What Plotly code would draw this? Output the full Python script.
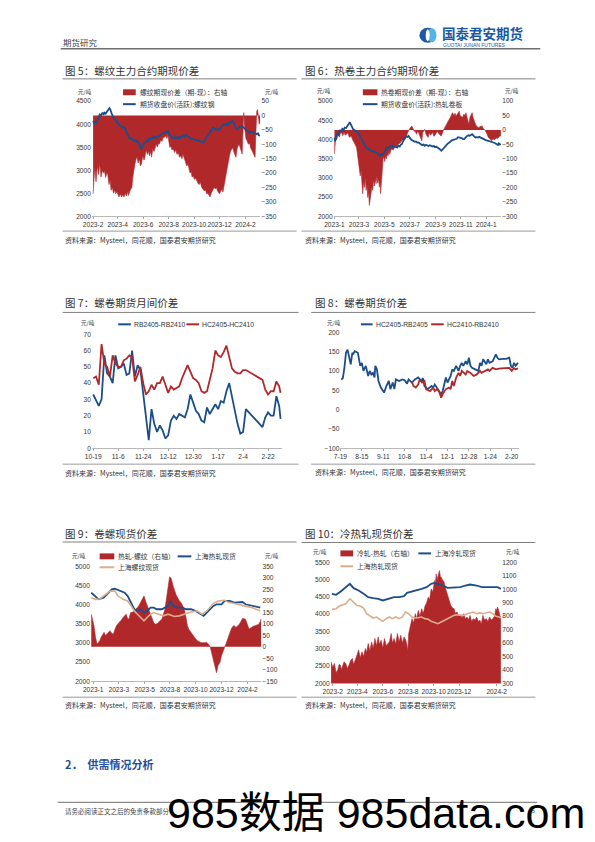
import plotly.graph_objects as go
import pandas as pd

# ======================= DATA =======================
# Fig 5: rebar main contract basis (right axis) & futures close (left axis)
f5_start = "2023-02-01"
f5_basis_pts = [(0,-272),(2,-200),(4,-180),(7,-230),(10,-175),(13,-205),(16,-168),(19,-214),(22,-190),(25,-200),
    (27,-191),(30,-215),(33,-200),(35,-203),(38,-240),(41,-225),(43,-260),(46,-250),(49,-270),(52,-258),(54,-272),
    (57,-265),(60,-280),(62,-283),(65,-272),(68,-283),(71,-275),(74,-283),(77,-270),(80,-280),(83,-265),(85,-278),
    (88,-262),(90,-255),(93,-249),(95,-215),(97,-191),(100,-170),(103,-150),(105,-145),(108,-165),(111,-150),
    (113,-175),(116,-168),(119,-140),(122,-155),(124,-145),(127,-120),(130,-135),(132,-122),(135,-140),(138,-125),
    (140,-145),(143,-115),(146,-125),(148,-111),(151,-100),(154,-110),(157,-95),(159,-99),(162,-85),(165,-90),
    (168,-75),(171,-76),(174,-70),(177,-80),(179,-65),(182,-95),(184,-111),(186,-105),(189,-120),(192,-115),
    (195,-128),(198,-120),(201,-135),(204,-128),(207,-145),(210,-140),(213,-150),(215,-134),(218,-145),(221,-160),
    (224,-175),(227,-170),(229,-180),(232,-200),(235,-195),(237,-214),(240,-210),(243,-222),(246,-218),(248,-226),
    (251,-235),(254,-240),(257,-232),(260,-249),(263,-255),(266,-262),(269,-258),(272,-272),(275,-270),(278,-278),
    (280,-283),(283,-270),(285,-265),(287,-260),(290,-250),(293,-255),(295,-249),(298,-262),(301,-268),(303,-272),
    (306,-262),(309,-255),(311,-266),(314,-240),(316,-225),(318,-214),(321,-185),(323,-160),(326,-145),(329,-125),
    (331,-118),(334,-111),(337,-125),(340,-135),(342,-145),(345,-115),(347,-105),(349,-99),(352,-110),(355,-125),
    (357,-134),(359,-60),(361,10),(363,-40),(366,-80),(369,-88),(372,-100),(375,-95),(377,-111),(380,-120),
    (382,-128),(384,-134),(386,-140),(388,-145),(390,-60),(392,15),(394,21),(396,-5),(398,-30),(400,-20)]
f5_fut_pts = [(0,4070),(3,4020),(6,4050),(8,4030),(11,4100),(14,4180),(16,4210),(19,4190),(22,4240),(25,4220),
    (27,4250),(30,4230),(33,4280),(36,4300),(39,4350),(41,4320),(43,4250),(45,4220),(47,4180),(50,4120),(53,4090),
    (56,4060),(58,4030),(61,4000),(64,3970),(67,3950),(70,3925),(73,3940),(76,3900),(78,3890),(80,3820),(83,3760),
    (85,3710),(88,3680),(91,3700),(94,3660),(97,3640),(100,3660),(103,3620),(106,3640),(109,3600),(112,3540),
    (115,3460),(118,3530),(121,3570),(124,3600),(127,3640),(130,3620),(133,3680),(136,3660),(140,3710),(143,3690),
    (146,3730),(149,3700),(152,3720),(155,3710),(158,3750),(161,3760),(164,3790),(167,3800),(171,3820),(174,3840),
    (177,3830),(179,3850),(182,3780),(185,3740),(188,3720),(190,3710),(193,3690),(196,3730),(199,3700),(202,3720),
    (205,3700),(208,3730),(210,3710),(213,3740),(216,3760),(219,3730),(222,3770),(225,3750),(228,3720),(231,3700),
    (234,3690),(238,3680),(241,3670),(244,3660),(247,3650),(250,3660),(253,3640),(256,3640),(259,3620),(262,3610),
    (264,3600),(267,3640),(270,3680),(273,3720),(276,3750),(279,3790),(282,3840),(285,3890),(287,3925),(290,3920),
    (293,3880),(296,3900),(299,3870),(303,3890),(306,3920),(309,3960),(312,3990),(314,4000),(317,3980),(320,4010),
    (323,3990),(326,4030),(329,4040),(331,4050),(334,4070),(337,4020),(340,3950),(342,3910),(345,3890),(348,3920),
    (351,3940),(354,3950),(357,3960),(360,3930),(363,3900),(366,3870),(369,3850),(372,3830),(375,3840),(378,3820),
    (381,3830),(384,3820),(387,3800),(390,3790),(392,3780),(395,3800),(397,3760),(400,3750)]
f5_tick_dates = ["2023-02-01","2023-04-01","2023-06-01","2023-08-01","2023-10-01","2023-12-01","2024-02-01"]
f5_tick_text = ["2023-2","2023-4","2023-6","2023-8","2023-10","2023-12","2024-2"]

# Fig 6: HRC main contract basis (right) & futures close (left)
f6_start = "2023-01-01"
f6_basis_pts = [(0,-84),(1,-40),(3,-26),(5,-35),(7,-18),(9,-15),(12,-25),(14,-12),(17,-9),(20,-20),(23,-8),(26,-18),
    (29,-15),(32,-10),(35,-22),(37,-26),(40,-20),(43,-35),(45,-38),(48,-45),(51,-55),(53,-61),(55,-80),(57,-100),
    (60,-130),(62,-160),(64,-140),(66,-190),(68,-222),(70,-180),(72,-200),(74,-165),(76,-210),(78,-190),(80,-235),
    (82,-215),(84,-262),(86,-240),(88,-225),(90,-200),(92,-210),(94,-175),(96,-195),(98,-170),(100,-187),(102,-160),
    (104,-185),(106,-170),(108,-199),(110,-180),(111,-222),(113,-170),(115,-120),(117,-100),(119,-95),(121,-110),
    (123,-90),(125,-100),(127,-84),(129,-90),(131,-75),(133,-85),(135,-72),(138,-65),(141,-70),(144,-58),(147,-55),
    (150,-60),(153,-50),(155,-49),(158,-45),(160,-40),(162,-38),(165,-35),(168,-30),(170,-32),(173,-20),(175,-10),
    (178,-3),(181,5),(184,10),(186,14),(189,5),(192,-5),(194,-3),(197,-15),(200,-5),(202,-9),(205,-20),(208,-30),
    (210,-38),(212,-10),(215,-5),(217,2),(220,-15),(223,-20),(225,-26),(228,-10),(231,-18),(233,-15),(236,-8),
    (239,-22),(241,-20),(244,-12),(247,-5),(249,-9),(252,-15),(255,-20),(257,-20),(260,-5),(263,2),(265,8),(268,15),
    (271,25),(274,32),(276,37),(279,45),(282,55),(284,60),(287,50),(290,58),(292,48),(295,55),(298,62),(300,65),
    (302,50),(305,45),(308,43),(311,55),(314,50),(316,60),(319,40),(321,25),(323,20),(326,45),(329,55),(331,60),
    (333,45),(336,30),(339,20),(342,12),(345,10),(347,8),(350,12),(353,15),(355,14),(358,5),(361,0),(363,-3),
    (366,-12),(368,-20),(370,-26),(373,-30),(376,-35),(378,-38),(381,-30),(384,-35),(386,-32),(389,-28),(392,-30),
    (394,-26),(397,-22),(400,-20)]
f6_fut_pts = [(0,4050),(2,3950),(4,4100),(7,4150),(10,4120),(13,4250),(16,4200),(19,4280),(22,4250),(25,4310),
    (28,4300),(31,4350),(34,4380),(37,4450),(40,4380),(43,4300),(45,4267),(48,4250),(51,4220),(54,4200),(57,4180),
    (60,4120),(63,4050),(66,3990),(68,3966),(71,3900),(74,3830),(76,3793),(79,3760),(82,3740),(85,3720),(88,3707),
    (91,3690),(94,3700),(97,3680),(100,3664),(103,3640),(106,3620),(109,3600),(111,3560),(113,3620),(116,3600),
    (119,3664),(122,3700),(125,3760),(127,3793),(130,3780),(133,3820),(136,3800),(139,3836),(142,3780),(145,3820),
    (148,3800),(151,3793),(154,3840),(157,3820),(160,3870),(162,3880),(165,3950),(168,4020),(170,4052),(173,4080),
    (176,4070),(178,4095),(181,4040),(184,4000),(187,3980),(190,3966),(193,3940),(196,3950),(199,3920),(202,3923),
    (205,3900),(208,3880),(211,3850),(214,3870),(217,3836),(220,3860),(223,3840),(226,3830),(229,3850),(233,3836),
    (236,3820),(239,3830),(242,3800),(245,3810),(249,3793),(252,3760),(255,3730),(257,3707),(260,3740),(263,3770),
    (265,3793),(268,3840),(271,3880),(274,3900),(276,3923),(279,3950),(282,3980),(285,3990),(288,4009),(291,4030),
    (294,4020),(297,4060),(300,4052),(303,4030),(306,4040),(309,4010),(312,4009),(315,4050),(317,4080),(319,4095),
    (322,4110),(325,4100),(328,4120),(331,4138),(334,4100),(337,4070),(339,4052),(342,4060),(345,4050),(348,4070),
    (351,4052),(354,4030),(357,4020),(359,4009),(362,3990),(365,3980),(368,3970),(370,3966),(373,3950),(376,3940),
    (379,3930),(382,3923),(385,3910),(388,3890),(390,3880),(393,3860),(395,3900),(397,3870),(400,3880)]
f6_tick_dates = ["2023-01-01","2023-03-01","2023-05-01","2023-07-01","2023-09-01","2023-11-01","2024-01-01"]
f6_tick_text = ["2023-1","2023-3","2023-5","2023-7","2023-9","2023-11","2024-1"]

# Fig 7: calendar spreads
f7_start = "2023-10-19"
f7_day = [0,2,4,6,8,10,12,14,16,18,20,22,24,26,28,30,32,34,36,38,40,42,44,46,48,50,52,54,56,58,60,62,64,66,68,70,
          72,74,76,78,80,82,84,86,88,90,92,94,96,98,100,102,104,106,108,110,122,124,126,128,130,132,134,135]
f7_rb = [33,29,26,30,57,46,44,40,57,49,50,52,45,46,60,44,51,48,33,18,5,24,15,10,14,11,6,8,17,20,18,21,20,19,24,33,
         28,23,21,17,16,25,21,24,27,24,29,28,35,40,31,23,15,9,10,24,13,19,22,20,20,32,26,18]
f7_hc = [43,44,39,64,52,50,44,57,52,50,50,54,55,57,56,41,45,50,40,33,35,39,36,40,40,44,39,34,38,36,37,38,43,47,51,47,
         43,42,40,35,34,35,43,49,60,57,56,59,63,55,49,47,46,46,48,48,42,36,33,35,35,41,38,34]
f7_tick_days = [0,18,36,54,72,90,108,126]
f7_tick_text = ["10-19","11-6","11-24","12-12","12-30","1-17","2-4","2-22"]

# Fig 8: HC-RB spreads
f8_start = "2023-07-19"
f8_hr05_pts = [(1,78),(3,81),(5,108),(7,147),(9,155),(11,138),(13,117),(15,147),(16,143),(18,151),(20,149),(22,147),
    (25,113),(27,121),(29,100),(32,113),(35,87),(37,100),(39,91),(41,95),(43,83),(44,113),(46,104),(48,74),(51,57),
    (55,44),(58,61),(61,74),(63,53),(66,70),(68,53),(70,78),(74,74),(78,78),(81,76),(84,67),(86,78),(90,70),(94,78),
    (98,83),(102,74),(104,81),(106,61),(110,53),(115,61),(117,57),(119,65),(123,53),(125,48),(127,40),(129,48),
    (131,65),(133,83),(135,70),(139,87),(141,104),(143,100),(146,113),(149,100),(151,113),(153,121),(155,113),
    (158,125),(160,117),(162,134),(164,113),(166,108),(170,104),(174,100),(176,121),(178,113),(180,130),(182,125),
    (184,117),(186,130),(188,121),(192,125),(194,134),(196,143),(198,134),(200,130),(205,131),(209,131),(213,134),
    (215,113),(217,108),(219,121),(221,113),(224,121)]
f8_hr10_pts = [(90,74),(92,61),(95,57),(98,65),(100,78),(103,70),(106,74),(108,53),(113,48),(117,57),(119,48),
    (122,53),(125,44),(127,31),(129,40),(133,53),(137,57),(139,53),(141,74),(143,61),(146,83),(149,95),(151,87),
    (153,100),(158,91),(160,100),(164,95),(168,87),(172,91),(176,100),(178,95),(182,100),(186,104),(188,100),
    (192,108),(196,104),(200,106),(207,107),(213,108),(216,100),(219,107),(221,104),(224,107)]
f8_tick_days = [0,27,54,81,108,135,162,189,216]
f8_tick_text = ["7-19","8-15","9-11","10-8","11-4","12-1","12-28","1-24","2-20"]

# Fig 9: HRC - rebar spot
f9_start = "2023-01-01"
f9_diff_pts = [(-5,142),(2,92),(6,40),(10,12),(14,20),(17,27),(20,40),(22,48),(25,55),(28,63),(31,50),(35,55),
    (39,65),(43,70),(47,60),(52,55),(56,75),(60,92),(64,100),(68,106),(72,115),(77,127),(81,135),(85,142),(88,125),
    (92,120),(95,140),(97,149),(101,150),(106,156),(110,165),(114,170),(118,180),(122,192),(126,205),(131,221),
    (135,199),(139,180),(143,163),(147,140),(152,120),(156,105),(160,98),(164,100),(168,106),(172,112),(177,120),
    (181,140),(185,163),(189,210),(193,264),(197,304),(200,300),(202,293),(206,265),(210,242),(214,225),(218,213),
    (222,200),(227,192),(231,180),(235,163),(239,130),(243,92),(247,75),(252,63),(256,50),(260,41),(264,35),
    (268,27),(272,22),(277,19),(281,18),(285,17),(289,18),(293,19),(298,10),(302,-2),(306,-31),(310,-67),(314,-96),
    (318,-113),(322,-81),(325,-75),(327,-67),(331,-38),(335,-16),(339,-2),(343,15),(347,34),(351,55),(356,77),
    (360,88),(364,92),(368,84),(372,90),(377,98),(381,110),(385,123),(389,122),(393,120),(397,100),(402,77),
    (406,82),(410,88),(414,90),(418,92),(422,95),(427,98),(431,110),(433,123)]
f9_hrc_pts = [(-5,4310),(6,4207),(14,4138),(27,4181),(35,4267),(48,4397),(56,4414),(64,4379),(73,4353),(81,4310),
    (89,4224),(98,4052),(106,3879),(114,3836),(122,3879),(131,3793),(139,3836),(148,3922),(156,3922),(164,3879),
    (177,3879),(185,3922),(193,3966),(200,4095),(206,3966),(218,3922),(231,3922),(239,3879),(252,3879),(264,3836),
    (277,3750),(285,3707),(293,3793),(302,3879),(310,3966),(318,4009),(331,4009),(339,4095),(352,4095),(364,4052),
    (377,4052),(385,4069),(393,4009),(406,3983),(418,3948),(431,3922)]
f9_rebar_pts = [(-5,4181),(6,4138),(18,4155),(31,4267),(43,4353),(56,4353),(64,4224),(77,4138),(89,4095),(98,3966),
    (106,3836),(114,3750),(122,3664),(131,3578),(139,3664),(148,3750),(156,3793),(168,3750),(181,3707),(193,3750),
    (202,3707),(210,3690),(222,3707),(235,3750),(252,3810),(268,3836),(281,3750),(293,3836),(302,3948),(310,4034),
    (322,4095),(339,4112),(347,4069),(360,4034),(372,4009),(385,3983),(398,3948),(410,3922),(423,3879),(431,3836)]
f9_tick_days = [0,66,133,198,264,331,398]
f9_tick_text = ["2023-1","2023-3","2023-5","2023-8","2023-10","2023-12","2024-2"]

# Fig 10: CRC - HRC spot
f10_start = "2023-02-01"
f10_diff_pts = [(-4,460),(0,420),(4,448),(8,380),(12,399),(15,440),(18,436),(21,400),(23,423),(27,460),(31,448),
    (35,410),(39,436),(43,470),(47,485),(50,440),(54,473),(58,520),(62,547),(66,490),(70,534),(74,500),(78,559),
    (81,530),(85,596),(89,540),(93,608),(97,560),(101,633),(105,580),(109,645),(112,590),(116,620),(120,560),
    (124,633),(128,580),(132,596),(136,610),(140,670),(143,600),(147,633),(151,590),(155,670),(159,610),(163,657),
    (167,600),(171,645),(175,620),(178,583),(180,540),(182,670),(186,720),(190,781),(194,750),(198,818),(201,780),
    (205,842),(209,800),(213,855),(217,820),(221,874),(225,900),(229,941),(232,920),(236,1003),(240,980),(244,1064),
    (246,1040),(248,1114),(250,1070),(252,1089),(254,1120),(256,1138),(258,1090),(260,1089),(263,1070),(267,1052),
    (271,1000),(275,953),(279,910),(283,879),(287,860),(291,855),(294,820),(298,830),(302,800),(306,805),(310,790),
    (314,818),(318,780),(322,793),(325,770),(329,805),(333,760),(337,781),(341,770),(345,793),(349,760),(353,769),
    (356,740),(360,805),(364,770),(368,781),(372,760),(376,793),(380,770),(384,781),(388,800),(391,855),(393,840),
    (395,867),(397,850),(399,830),(401,800),(403,781)]
f10_crc_pts = [(-2,4589),(8,4560),(19,4656),(31,4781),(41,4877),(50,4752),(62,4685),(74,4589),(85,4493),(97,4464),
    (109,4445),(120,4397),(128,4426),(136,4464),(147,4493),(159,4493),(171,4522),(178,4618),(190,4656),(202,4685),
    (213,4733),(225,4781),(236,4877),(244,4906),(252,4877),(264,4829),(275,4762),(291,4762),(306,4781),(318,4829),
    (329,4858),(345,4829),(357,4781),(368,4781),(384,4781),(395,4781),(403,4733)]
f10_hrc_pts = [(-2,4138),(8,4157),(16,4234),(23,4273),(31,4301),(41,4445),(50,4349),(58,4253),(66,4234),(74,4177),
    (81,4014),(89,3947),(97,3889),(105,3918),(112,3870),(120,3793),(128,3870),(136,3918),(143,3870),(151,3918),
    (159,3870),(167,3918),(174,4062),(182,4014),(190,3918),(198,3889),(205,3899),(213,3918),(221,3870),(229,3851),
    (236,3793),(244,3755),(252,3726),(260,3774),(267,3822),(275,3870),(283,3918),(291,3966),(298,3985),(306,3966),
    (314,3966),(322,4014),(329,4033),(337,4062),(345,4014),(353,4043),(360,4014),(368,4033),(376,4062),(384,4014),
    (391,3937),(399,3918),(403,3889)]
f10_tick_dates = ["2023-02-01","2023-04-01","2023-06-01","2023-08-01","2023-10-01","2023-12-01","2024-02-29"]
f10_tick_text = ["2023-2","2023-4","2023-6","2023-8","2023-10","2023-12","2024-2"]

# ======================= HELPERS =======================
W, H = 595, 842
CJK = "Noto Sans CJK SC"
NUM = "Liberation Sans, Noto Sans CJK SC"
RED = "#B1282B"
NAVY = "#1C4E8A"
TAN = "#D9AE8C"
TXT = "#333333"


def dates(start, offs):
    s = pd.Timestamp(start)
    return [(s + pd.Timedelta(days=int(o))).strftime("%Y-%m-%d") for o in offs]


def split(pts):
    return [p[0] for p in pts], [p[1] for p in pts]


def rng(start, offs, pad0=2, pad1=1):
    return dates(start, [min(offs) - pad0, max(offs) + pad1])


def dom_x(a, b):
    return [a / W, b / W]


def dom_y(top, bottom):
    return [1 - bottom / H, 1 - top / H]


ann, shp = [], []


def text(x, y, s, size=7, color=TXT, anchor="left", family=CJK):
    ann.append(dict(x=x / W, y=1 - y / H, xref="paper", yref="paper", text=s, showarrow=False,
                    xanchor=anchor, yanchor="middle", font=dict(size=size, color=color, family=family)))


def hline(x0, x1, y, color="#8C8C8C", width=1.0):
    shp.append(dict(type="line", xref="paper", yref="paper", x0=x0 / W, x1=x1 / W, y0=1 - y / H, y1=1 - y / H,
                    line=dict(color=color, width=width)))


def box(x0, y0, x1, y1, color):
    shp.append(dict(type="rect", xref="paper", yref="paper", x0=x0 / W, x1=x1 / W, y0=1 - y1 / H, y1=1 - y0 / H,
                    fillcolor=color, line=dict(width=0)))


def oval(x0, y0, x1, y1, color):
    shp.append(dict(type="circle", xref="paper", yref="paper", x0=x0 / W, x1=x1 / W, y0=1 - y1 / H, y1=1 - y0 / H,
                    fillcolor=color, line=dict(width=0)))


tickfont = dict(size=6.6, color=TXT, family=NUM)


def xaxis(domain, anchor, r, tv, tt):
    return dict(domain=domain, anchor=anchor, range=r, tickmode="array", tickvals=tv, ticktext=tt,
                tickfont=tickfont, showgrid=False, showline=True, linecolor="#A6A6A6", linewidth=0.8,
                ticks="outside", ticklen=2, tickcolor="#A6A6A6", zeroline=False, tickangle=0)


def yaxis(r, dt, **kw):
    d = dict(range=r, dtick=dt, tickfont=tickfont, showgrid=False, zeroline=False, showline=False, ticks="")
    d.update(kw)
    return d


fig = go.Figure()

# ======================= FIG 5 =======================
d, v = split(f5_basis_pts)
fig.add_trace(go.Scatter(x=dates(f5_start, d), y=v, mode="lines", fill="tozeroy", fillcolor=RED,
                         line=dict(color=RED, width=0.6), xaxis="x", yaxis="y", showlegend=False))
d2, v2 = split(f5_fut_pts)
fig.add_trace(go.Scatter(x=dates(f5_start, d2), y=v2, mode="lines", line=dict(color=NAVY, width=1.8),
                         xaxis="x", yaxis="y2", showlegend=False))

# ======================= FIG 6 =======================
d, v = split(f6_basis_pts)
fig.add_trace(go.Scatter(x=dates(f6_start, d), y=v, mode="lines", fill="tozeroy", fillcolor=RED,
                         line=dict(color=RED, width=0.6), xaxis="x2", yaxis="y3", showlegend=False))
d2, v2 = split(f6_fut_pts)
fig.add_trace(go.Scatter(x=dates(f6_start, d2), y=v2, mode="lines", line=dict(color=NAVY, width=1.8),
                         xaxis="x2", yaxis="y4", showlegend=False))

# ======================= FIG 7 =======================
fig.add_trace(go.Scatter(x=dates(f7_start, f7_day), y=f7_rb, mode="lines", line=dict(color=NAVY, width=1.8),
                         xaxis="x3", yaxis="y5", showlegend=False))
fig.add_trace(go.Scatter(x=dates(f7_start, f7_day), y=f7_hc, mode="lines", line=dict(color=RED, width=1.8),
                         xaxis="x3", yaxis="y5", showlegend=False))

# ======================= FIG 8 =======================
d, v = split(f8_hr05_pts)
fig.add_trace(go.Scatter(x=dates(f8_start, d), y=v, mode="lines", line=dict(color=NAVY, width=1.8),
                         xaxis="x4", yaxis="y6", showlegend=False))
d2, v2 = split(f8_hr10_pts)
fig.add_trace(go.Scatter(x=dates(f8_start, d2), y=v2, mode="lines", line=dict(color=RED, width=1.8),
                         xaxis="x4", yaxis="y6", showlegend=False))

# ======================= FIG 9 =======================
d, v = split(f9_diff_pts)
fig.add_trace(go.Scatter(x=dates(f9_start, d), y=v, mode="lines", fill="tozeroy", fillcolor=RED,
                         line=dict(color=RED, width=0.6), xaxis="x5", yaxis="y7", showlegend=False))
d2, v2 = split(f9_hrc_pts)
fig.add_trace(go.Scatter(x=dates(f9_start, d2), y=v2, mode="lines", line=dict(color=NAVY, width=1.8),
                         xaxis="x5", yaxis="y8", showlegend=False))
d3, v3 = split(f9_rebar_pts)
fig.add_trace(go.Scatter(x=dates(f9_start, d3), y=v3, mode="lines", line=dict(color=TAN, width=1.6),
                         xaxis="x5", yaxis="y8", showlegend=False))

# ======================= FIG 10 =======================
d, v = split(f10_diff_pts)
fig.add_trace(go.Scatter(x=dates(f10_start, d), y=v, mode="lines", fill="tozeroy", fillcolor=RED,
                         line=dict(color=RED, width=0.6), xaxis="x6", yaxis="y9", showlegend=False))
d2, v2 = split(f10_crc_pts)
fig.add_trace(go.Scatter(x=dates(f10_start, d2), y=v2, mode="lines", line=dict(color=NAVY, width=1.8),
                         xaxis="x6", yaxis="y10", showlegend=False))
d3, v3 = split(f10_hrc_pts)
fig.add_trace(go.Scatter(x=dates(f10_start, d3), y=v3, mode="lines", line=dict(color=TAN, width=1.6),
                         xaxis="x6", yaxis="y10", showlegend=False))

# ======================= AXES =======================
lay = {}
# fig 5
lay["xaxis"] = xaxis(dom_x(85, 258), "y", rng(f5_start, split(f5_basis_pts)[0], 3, 1), f5_tick_dates, f5_tick_text)
lay["yaxis"] = yaxis([-350, 50], 50, domain=dom_y(98, 214), anchor="x", side="right")
lay["yaxis2"] = yaxis([2000, 4500], 500, anchor="x", overlaying="y", side="left")
# fig 6
lay["xaxis2"] = xaxis(dom_x(333, 505), "y3", rng(f6_start, split(f6_basis_pts)[0], 2, 1), f6_tick_dates,
                      f6_tick_text)
lay["yaxis3"] = yaxis([-300, 100], 50, domain=dom_y(98, 214), anchor="x2", side="right")
lay["yaxis4"] = yaxis([2000, 5000], 500, anchor="x2", overlaying="y3", side="left")
# fig 7
lay["xaxis3"] = xaxis(dom_x(85, 280), "y5", rng(f7_start, f7_day, 1, 1), dates(f7_start, f7_tick_days),
                      f7_tick_text)
lay["yaxis5"] = yaxis([0, 70], 10, domain=dom_y(333, 448), anchor="x3", side="left")
# fig 8
lay["xaxis4"] = xaxis(dom_x(340, 523), "y6", rng(f8_start, split(f8_hr05_pts)[0], 1, 1),
                      dates(f8_start, f8_tick_days), f8_tick_text)
lay["yaxis6"] = yaxis([-100, 200], 50, domain=dom_y(331, 448), anchor="x4", side="left")
# fig 9
lay["xaxis5"] = xaxis(dom_x(84, 259), "y7", rng(f9_start, split(f9_diff_pts)[0], 1, 1),
                      dates(f9_start, f9_tick_days), f9_tick_text)
lay["yaxis7"] = yaxis([-150, 350], 50, domain=dom_y(567, 683), anchor="x5", side="right")
lay["yaxis8"] = yaxis([2000, 5000], 500, anchor="x5", overlaying="y7", side="left")
# fig 10
lay["xaxis6"] = xaxis(dom_x(330, 505), "y9", rng(f10_start, split(f10_diff_pts)[0], 1, 1), f10_tick_dates,
                      f10_tick_text)
lay["yaxis9"] = yaxis([300, 1200], 100, domain=dom_y(563, 685), anchor="x6", side="right")
lay["yaxis10"] = yaxis([2000, 5500], 500, anchor="x6", overlaying="y9", side="left")

# ======================= PAGE DECOR / TEXT =======================
# header
text(53, 38, "期货研究", size=8.5, color="#444")
oval(421, 24, 438, 39, "#1B58A5")
oval(429.5, 24.5, 438.5, 38.5, "#55B4E6")
oval(427.5, 25.5, 431.5, 37.5, "#FFFFFF")
text(442, 29.5, "<b>国泰君安期货</b>", size=13.5, color="#1B58A5")
text(443, 41.3, "GUOTAI JUNAN FUTURES", size=5, color="#1B58A5", family="Liberation Sans")
hline(53, 545, 45, color="#6E6E6E", width=1.5)

TS = 10.5
# titles
text(55, 67, "图 5：螺纹主力合约期现价差", size=TS)
text(302, 67, "图 6：热卷主力合约期现价差", size=TS)
text(55, 301, "图 7：螺卷期货月间价差", size=TS)
text(312, 301, "图 8：螺卷期货价差", size=TS)
text(55, 534, "图 9：卷螺现货价差", size=TS)
text(302, 534, "图 10：冷热轧现货价差", size=TS)
for (x0, x1, y) in [(55, 295, 75.5), (300, 540, 75.5), (55, 297, 311), (310, 540, 311), (55, 295, 542.5),
                    (300, 540, 543)]:
    hline(x0, x1, y, color="#7F7F7F", width=1)

# sources
SRC = "资料来源：Mysteel，同花顺，国泰君安期货研究"
for (x0, x1, yl, xt, yt) in [(55, 295, 229, 55, 238), (300, 540, 229, 302, 238), (55, 297, 464, 55, 473),
                             (310, 540, 464, 312, 472), (55, 295, 699, 55, 707), (300, 540, 699, 302, 707)]:
    hline(x0, x1, yl, color="#7F7F7F", width=0.8)
    text(xt, yt, SRC, size=7)

# units
U = "元/吨"
for (x, y) in [(78, 89), (270, 89), (323, 88), (516, 88), (81, 322), (333, 322), (72, 557), (270, 557),
               (319, 553), (517, 553)]:
    text(x, y, U, size=5.5, anchor="center")

# legends
LS = 6.8
box(117, 86, 130, 92, RED); text(132, 89, "螺纹期现价差（期-现）：右轴", size=LS)
hline(117, 130, 101, color=NAVY, width=2); text(132, 101, "期货收盘价(活跃):螺纹钢", size=LS)
box(363, 86, 378, 92, RED); text(380, 89, "热卷期现价差（期-现）：右轴", size=LS)
hline(363, 378, 101, color=NAVY, width=2); text(380, 101, "期货收盘价(活跃):热轧卷板", size=LS)
hline(112, 125, 323, color=NAVY, width=2); text(126, 323, "RB2405-RB2410", size=LS, family=NUM)
hline(182, 195, 323, color=RED, width=2); text(196, 323, "HC2405-HC2410", size=LS, family=NUM)
hline(361, 373, 323, color=NAVY, width=2); text(374, 323, "HC2405-RB2405", size=LS, family=NUM)
hline(433, 446, 323, color=RED, width=2); text(447, 323, "HC2410-RB2410", size=LS, family=NUM)
box(93, 554, 108, 560, RED); text(110, 557, "热轧-螺纹（右轴）", size=LS)
hline(173, 187, 557, color=NAVY, width=2); text(189, 557, "上海热轧现货", size=LS)
hline(93, 108, 568, color=TAN, width=2); text(110, 568, "上海螺纹现货", size=LS)
box(340, 551, 353, 557, RED); text(355, 554, "冷轧-热轧（右轴）", size=LS)
hline(420, 433, 554, color=NAVY, width=2); text(435, 554, "上海冷轧现货", size=LS)
hline(340, 353, 567, color=TAN, width=2); text(355, 567, "上海热轧现货", size=LS)

# section heading & footer
text(55, 766, "<b>2．  供需情况分析</b>", size=11, color="#1F4E9A")
hline(50, 542, 805, color="#6E6E6E", width=1)
text(55, 814, "请务必阅读正文之后的免责条款部分", size=6.5, color="#444")
text(538, 813, "5", size=7, color="#444", anchor="center")
text(377, 816, "985数据 985data.com", size=43, color="#000000", anchor="center",
     family="Liberation Sans, Noto Sans CJK SC")

fig.update_layout(width=W, height=H, margin=dict(l=0, r=0, t=0, b=0), paper_bgcolor="white",
                  plot_bgcolor="rgba(0,0,0,0)", showlegend=False, annotations=ann, shapes=shp, **lay)

fig.write_html("out.html", config={"displayModeBar": False, "staticPlot": True},
               post_script="document.body.style.margin='0';document.body.style.overflow='hidden';")
